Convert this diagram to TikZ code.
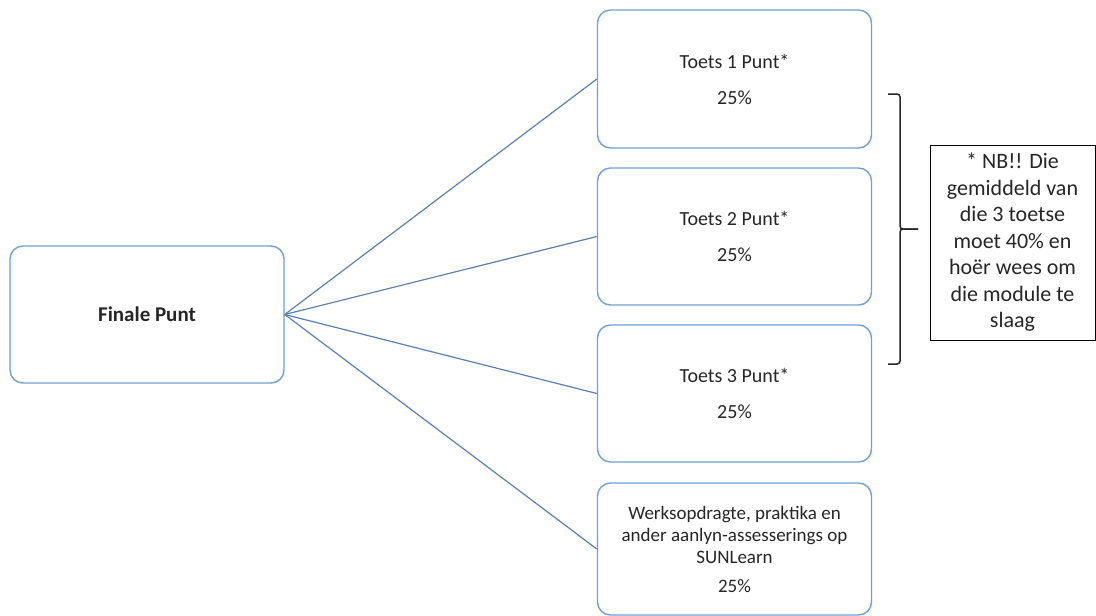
\documentclass[tikz,border=0pt]{standalone}
\usepackage{fontspec}
\setmainfont{Carlito}
\definecolor{boxblue}{RGB}{112,160,214}
\definecolor{lineblue}{RGB}{88,128,180}
\tikzset{
  smartbox/.style={draw=boxblue, line width=1.4pt, rounded corners=13pt, fill=white,
    minimum width=274pt, minimum height=137pt, inner sep=0pt, align=center, text=black!85},
  conn/.style={draw=lineblue, line width=1.2pt},
  notebox/.style={draw=black, line width=0.9pt, minimum width=165pt, minimum height=195pt,
    inner sep=0pt, align=center, text=black!85},
  bracepath/.style={draw=black!85, line width=1.5pt, rounded corners=3pt}
}
\begin{document}
\begin{tikzpicture}[x=1pt,y=-1pt]
\useasboundingbox (0,0) rectangle (1096,616);
\node[smartbox, font=\fontsize{21}{25}\selectfont\bfseries] (fin) at (147,314.5) {Finale Punt};
\node[smartbox, minimum height=138pt, font=\fontsize{20}{24}\selectfont] (t1) at (734.5,79) {Toets 1 Punt*\\[12pt]25\%};
\node[smartbox, font=\fontsize{20}{24}\selectfont] (t2) at (734.5,236.5) {Toets 2 Punt*\\[12pt]25\%};
\node[smartbox, font=\fontsize{20}{24}\selectfont] (t3) at (734.5,393.5) {Toets 3 Punt*\\[12pt]25\%};
\node[smartbox, minimum height=132pt, font=\fontsize{19}{22}\selectfont] (wo) at (734.5,549) {Werksopdragte, praktika en\\ander aanlyn-assesserings op\\SUNLearn\\[7pt]25\%};
\draw[conn] (fin.east) -- (t1.west);
\draw[conn] (fin.east) -- (t2.west);
\draw[conn] (fin.east) -- (t3.west);
\draw[conn] (fin.east) -- (wo.west);
\node[notebox, font=\fontsize{22}{26.5}\selectfont] (nb) at (1012.5,242.5) {* NB!! Die\\gemiddeld van\\die 3 toetse\\moet 40\% en\\hoër wees om\\die module te\\slaag};
\coordinate (btop) at (888,94);
\coordinate (bbot) at (888,364);
\coordinate (btip) at (918,229);
\draw[bracepath] (btop) -- (900,94) -- (900,229) -- (btip);
\draw[bracepath] (btip) -- (900,229) -- (900,364) -- (bbot);
\end{tikzpicture}
\end{document}
